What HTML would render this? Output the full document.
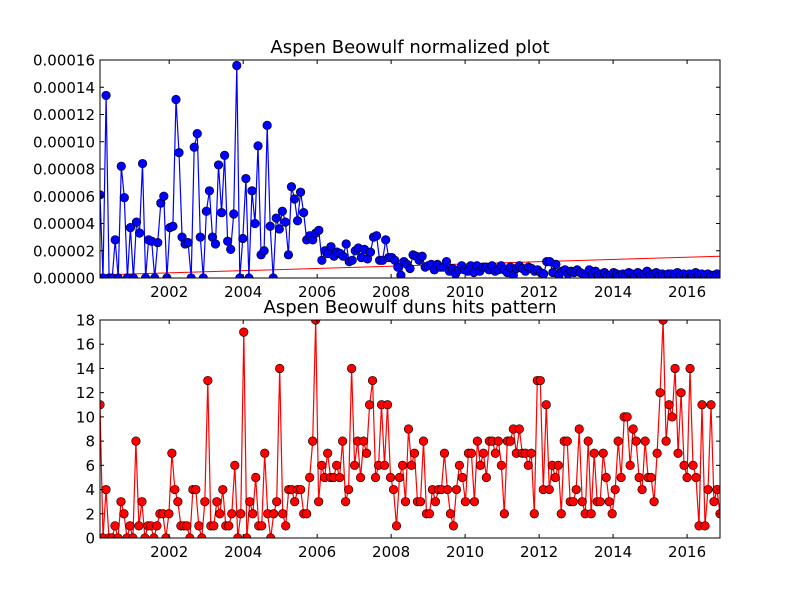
<!DOCTYPE html>
<html><head><meta charset="utf-8"><style>
body{margin:0;background:#fff}
svg text{font-family:"DejaVu Sans","Liberation Sans",sans-serif;fill:#000}
</style></head><body>
<svg id="chart" width="800" height="600" xmlns="http://www.w3.org/2000/svg"></svg>
<script>
const yearTicks=[2002,2004,2006,2008,2010,2012,2014,2016];
const topTickLabels=["0.00000","0.00002","0.00004","0.00006","0.00008","0.00010","0.00012","0.00014","0.00016"];
const bottomTickLabels=["0","2","4","6","8","10","12","14","16","18"];
const normalized=[6.1,0,13.4,0,0,2.8,0,8.2,5.9,0,3.7,0,
4.1,3.3,8.4,0,2.8,2.7,0,2.6,5.5,6.0,0,3.7,
3.8,13.1,9.2,3.0,2.5,2.6,0,9.6,10.6,3.0,0,4.9,
6.4,3.0,2.5,8.3,4.8,9.0,2.7,2.1,4.7,15.6,0,2.9,
7.3,0,6.4,4.0,9.7,1.7,2.0,11.2,3.8,0,4.4,3.6,
4.9,4.1,1.7,6.7,5.8,4.2,6.3,4.8,2.8,3.1,2.8,3.3,
3.5,1.3,
2.0,1.8,2.3,1.6,1.9,1.8,1.6,2.5,1.2,1.3,2.0,2.2,
1.5,2.1,1.4,1.9,3.0,3.1,1.3,1.3,2.8,1.5,1.5,1.3,
0.8,0.2,1.2,1.0,0.7,1.7,1.6,1.3,1.6,0.8,0.9,1.0,
0.6,1.0,0.8,0.8,1.2,0.5,0.7,0.3,0.6,0.9,0.6,0.5,
0.9,0.4,0.9,0.5,0.8,0.8,0.6,0.9,0.5,0.6,0.9,0.6,
0.4,0.8,0.2,0.7,0.9,0.7,0.5,0.8,0.7,0.5,0.6,0.4,
0.3,1.2,1.2,0.4,1.0,0.2,0.5,0.6,0.3,0.5,0.4,0.6,
0.4,0.3,0.2,0.6,0.3,0.5,0.2,0.3,0.4,0.2,0.2,0.4,
0.3,0.2,0.3,0.2,0.4,0.3,0.2,0.4,0.2,0.3,0.5,0.2,
0.3,0.4,0.2,0.3,0.2,0.3,0.3,0.2,0.4,0.2,0.3,0.2,
0.3,0.2,0.4,0.2,0.3,0.2,0.3,0.2,0.2,0.3,0.2];
const hits=[11,0,4,0,0,1,0,3,2,0,1,0,8,1,3,0,1,1,0,1,2,2,0,2,7,4,3,1,1,1,0,4,4,1,0,3,13,1,1,3,2,4,1,1,2,6,0,2,17,0,3,2,
5,1,1,7,2,0,2,3,14,2,1,4,4,3,4,4,2,2,5,8,18,3,6,5,7,5,5,6,5,8,3,4,14,6,8,5,8,7,11,13,5,6,11,6,11,5,4,1,5,6,3,9,
6,7,3,3,8,2,2,4,3,4,4,7,4,2,1,4,6,5,3,7,7,3,8,6,7,5,8,8,7,8,6,2,8,8,9,7,9,7,7,6,7,2,13,13,4,11,4,6,5,6,2,8,
8,3,3,4,9,3,2,8,2,7,3,3,7,5,3,2,4,8,5,10,10,6,9,8,5,4,8,5,5,3,7,12,18,8,11,10,14,7,12,6,5,14,6,5,1,11,1,4,11,3,4,2];
const trendStart=0.22, trendEnd=1.6; // units of 1e-5
const xMin=2000.13, xMax=2016.89;

const svg=document.getElementById('chart');
const NS="http://www.w3.org/2000/svg";
function mk(tag,attrs,parent){const e=document.createElementNS(NS,tag);for(const k in attrs)e.setAttribute(k,attrs[k]);(parent||svg).appendChild(e);return e;}
const L=100,R=720;
const xs=t=>L+(t-xMin)/(xMax-xMin)*(R-L);
function drawPanel(name,top,bot,ymax,nticks,labels,title,data,scaleDiv,color,trend){
  const ys=v=>bot-(v/ymax)*(bot-top);
  const g=mk('g',{});
  
  
  const t=mk('text',{x:410,y:top-7,'text-anchor':'middle','font-size':18},g);t.textContent=title;
  
  const cp='clip-'+name;
  const cl=mk('clipPath',{id:cp},g);mk('rect',{x:L,y:top,width:R-L,height:bot-top},cl);
  const pg=mk('g',{'clip-path':'url(#'+cp+')'},g);
  const n=data.length;
  const tx=i=>xMin+i*(xMax-xMin)/(n-1);
  if(trend){const tl=mk('line',{x1:xs(xMin),y1:ys(trend[0]/scaleDiv),x2:xs(xMax),y2:ys(trend[1]/scaleDiv),stroke:'#f00','stroke-width':1},pg);
    }
  const pts=data.map((v,i)=>xs(tx(i)).toFixed(1)+','+ys(v/scaleDiv).toFixed(1)).join(' ');
  const pl=mk('polyline',{points:pts,fill:'none',stroke:color,'stroke-width':1.2},pg);
  
  data.forEach((v,i)=>{const c=mk('circle',{cx:xs(tx(i)),cy:ys(v/scaleDiv),r:4.3,fill:color,stroke:'#000','stroke-width':0.6},pg);
    });
  const fr=mk('rect',{x:L,y:top,width:R-L,height:bot-top,fill:'none',stroke:'#000','stroke-width':1},g);
  
  labels.forEach((lb,i)=>{const v=i*ymax/nticks;const y=ys(v);
    mk('line',{x1:L,y1:y,x2:L+4,y2:y,stroke:'#000'},g);mk('line',{x1:R,y1:y,x2:R-4,y2:y,stroke:'#000'},g);
    const tt=mk('text',{x:L-5,y:y+5.5,'text-anchor':'end','font-size':15},g);tt.textContent=lb;
    });
  yearTicks.forEach(yr=>{const x=xs(yr);
    mk('line',{x1:x,y1:bot,x2:x,y2:bot-4,stroke:'#000'},g);mk('line',{x1:x,y1:top,x2:x,y2:top+4,stroke:'#000'},g);
    const tt=mk('text',{x:x,y:bot+19,'text-anchor':'middle','font-size':15},g);tt.textContent=yr;
    });
}
drawPanel('normalized',60,278,16,8,topTickLabels,'Aspen Beowulf normalized plot',normalized,1,'#0000ff',[trendStart,trendEnd]);
drawPanel('hits',320,538,18,9,bottomTickLabels,'Aspen Beowulf duns hits pattern',hits,1,'#ff0000',null);
</script>
</body></html>
